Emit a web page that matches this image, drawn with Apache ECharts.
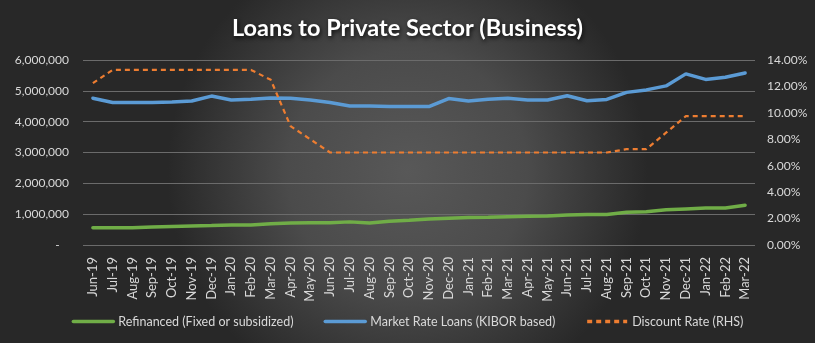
<!DOCTYPE html>
<html>
<head>
<meta charset="utf-8">
<script src="https://cdn.jsdelivr.net/npm/echarts@6/dist/echarts.min.js"></script>
<style>
html,body{margin:0;padding:0;background:#3a3a3a;}
#chart{width:815px;height:343px;}
</style>
</head>
<body>
<div id="chart"></div>
<script>
const categories = ["Jun-19","Jul-19","Aug-19","Sep-19","Oct-19","Nov-19","Dec-19","Jan-20","Feb-20","Mar-20","Apr-20","May-20","Jun-20","Jul-20","Aug-20","Sep-20","Oct-20","Nov-20","Dec-20","Jan-21","Feb-21","Mar-21","Apr-21","May-21","Jun-21","Jul-21","Aug-21","Sep-21","Oct-21","Nov-21","Dec-21","Jan-22","Feb-22","Mar-22"];
const refinanced = [560000,560000,560000,580000,600000,620000,630000,650000,650000,690000,710000,720000,720000,750000,710000,770000,800000,840000,870000,890000,900000,920000,930000,940000,970000,990000,990000,1060000,1080000,1140000,1170000,1200000,1200000,1290000];
const marketRate = [4760000,4620000,4620000,4620000,4640000,4670000,4830000,4700000,4730000,4770000,4760000,4700000,4620000,4510000,4510000,4490000,4490000,4490000,4750000,4670000,4730000,4760000,4700000,4700000,4840000,4680000,4720000,4950000,5030000,5160000,5550000,5370000,5440000,5580000];
const discountRate = [12.25,13.25,13.25,13.25,13.25,13.25,13.25,13.25,13.25,12.5,9,8,7,7,7,7,7,7,7,7,7,7,7,7,7,7,7,7.25,7.25,8.5,9.75,9.75,9.75,9.75];
const seriesNames = ["Refinanced (Fixed or subsidized)","Market Rate Loans (KIBOR based)","Discount Rate (RHS)"];
const leftTicks = {min:0,max:6000000,interval:1000000};
const rightTicks = {min:0,max:14,interval:2};

const chart = echarts.init(document.getElementById('chart'));
const txt = '#d9d9d9';
const font = 'Lato, "Open Sans", sans-serif';
chart.setOption({
  animation:false,
  backgroundColor:{type:'radial',x:0.5,y:0.5,r:0.7,colorStops:[{offset:0,color:'#585858'},{offset:0.5,color:'#4b4b4b'},{offset:1,color:'#282828'}]},
  title:{text:'Loans to Private Sector (Business)',left:'center',top:11,
    textStyle:{color:'#ffffff',fontFamily:font,fontWeight:'bold',fontSize:23.5,textShadowColor:'rgba(0,0,0,0.8)',textShadowBlur:4,textShadowOffsetX:1,textShadowOffsetY:2}},
  grid:{left:83,right:60,top:60,bottom:98,containLabel:false},
  legend:{bottom:10,left:'center',itemWidth:40,itemHeight:12,itemGap:30,
    itemStyle:{opacity:0},lineStyle:{width:3.5},
    textStyle:{color:txt,fontFamily:font,fontSize:12.5},data:seriesNames},
  xAxis:{type:'category',data:categories,boundaryGap:true,
    axisLine:{show:false},axisTick:{show:false},
    axisLabel:{rotate:90,interval:0,color:txt,fontFamily:font,fontSize:13,margin:12}},
  yAxis:[
    {type:'value',min:leftTicks.min,max:leftTicks.max,interval:leftTicks.interval,
     axisLine:{show:false},axisTick:{show:false},
     splitLine:{lineStyle:{color:'#6b6b6b',width:1}},
     axisLabel:{color:txt,fontFamily:font,fontSize:12,margin:14,
       formatter:v=>v===0?'-   ':v.toLocaleString('en-US')}},
    {type:'value',min:rightTicks.min,max:rightTicks.max,interval:rightTicks.interval,
     axisLine:{show:false},axisTick:{show:false},splitLine:{show:false},
     axisLabel:{color:txt,fontFamily:font,fontSize:12,margin:12,
       formatter:v=>v.toFixed(2)+'%'}}
  ],
  series:[
    {name:seriesNames[0],type:'line',data:refinanced,yAxisIndex:0,symbol:'none',
     lineStyle:{color:'#70ad47',width:3.5,cap:'round'},itemStyle:{color:'#70ad47'}},
    {name:seriesNames[1],type:'line',data:marketRate,yAxisIndex:0,symbol:'none',
     lineStyle:{color:'#5b9bd5',width:3.5,cap:'round'},itemStyle:{color:'#5b9bd5'}},
    {name:seriesNames[2],type:'line',data:discountRate,yAxisIndex:1,symbol:'none',
     lineStyle:{color:'#ed7d31',width:2.2,type:[5,4]},itemStyle:{color:'#ed7d31'}}
  ]
});
</script>
</body>
</html>
